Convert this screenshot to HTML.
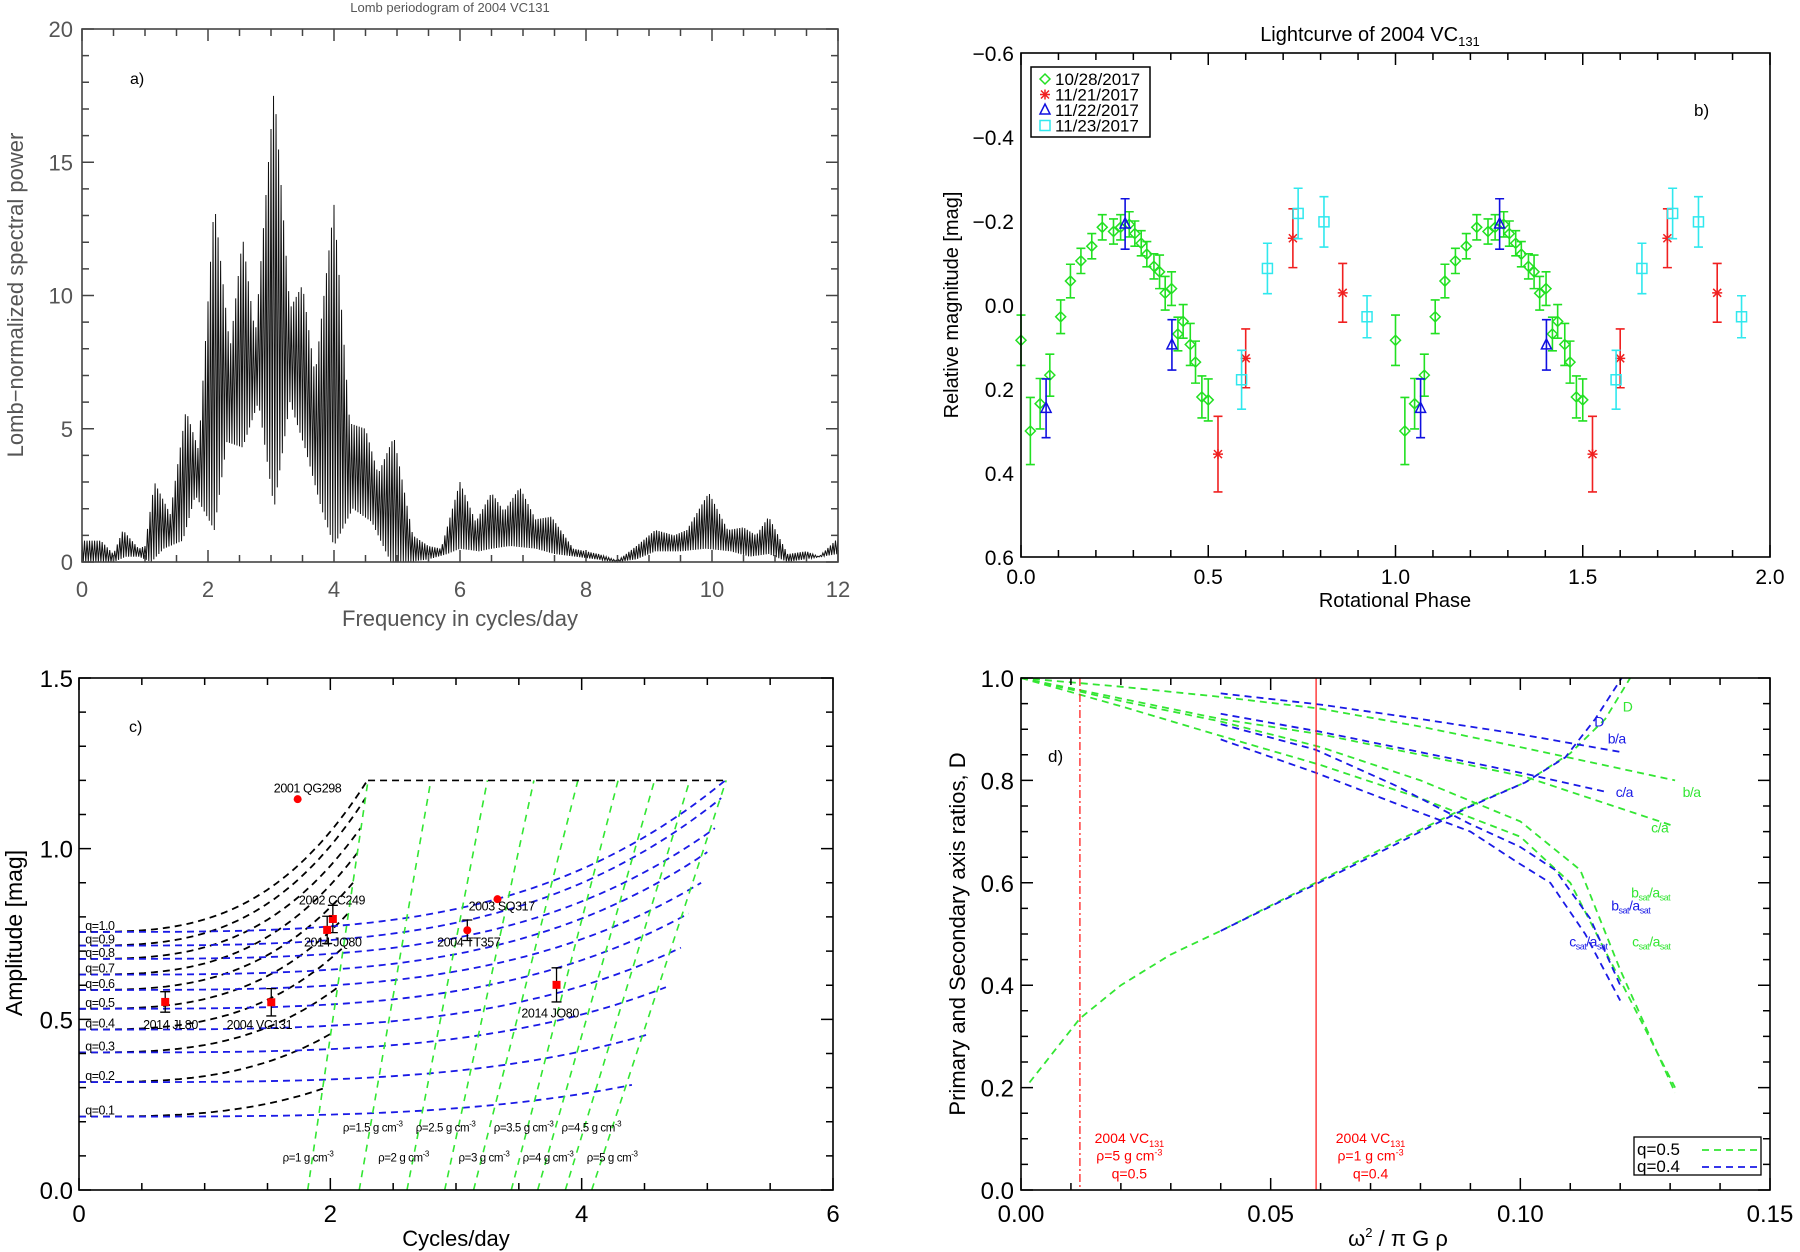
<!DOCTYPE html>
<html><head><meta charset="utf-8">
<style>
html,body{margin:0;padding:0;background:#fff;}
svg{display:block;font-family:"Liberation Sans",sans-serif;}
</style></head>
<body>
<svg id="fig" width="1800" height="1252" viewBox="0 0 1800 1252" xmlns="http://www.w3.org/2000/svg"></svg>
<script>
// ---------- Panel a data (periodogram envelopes) ----------
const aUpFreq = [0,0.3,0.5,0.65,0.9,1.0,1.15,1.4,1.65,1.85,2.1,2.35,2.55,2.75,3.05,3.3,3.5,3.7,4.0,4.25,4.5,4.7,4.95,5.25,5.5,5.7,6.0,6.25,6.5,6.7,6.95,7.2,7.45,7.8,8.2,8.5,8.8,9.1,9.4,9.6,9.95,10.25,10.5,10.7,10.9,11.2,11.5,11.7,12];
const aUpPower = [0.8,0.8,0.3,1.2,0.5,0.6,3.0,1.8,5.7,4.2,13.5,8.0,12.2,8.5,17.8,9.5,10.4,7.0,13.4,5.2,5.0,3.3,4.7,1.0,0.6,0.5,3.0,1.5,2.6,1.9,2.8,1.6,1.7,0.5,0.3,0.05,0.6,1.2,1.0,1.2,2.6,1.2,1.3,1.0,1.7,0.3,0.4,0.2,0.9];
const aLoFreq = [0,0.5,0.7,0.9,1.1,1.3,1.6,1.8,2.1,2.3,2.55,2.8,3.05,3.3,3.55,3.8,4.0,4.3,4.6,4.9,5.2,5.5,5.8,6.0,6.3,6.5,6.8,7.2,7.5,8.5,8.8,9.1,9.5,9.9,10.3,10.6,10.9,11.2,12];
const aLoPower = [0,0,0.2,0.2,0,0.5,0.8,2.5,1.2,4.5,4.3,6.0,2.0,6.0,4.2,2.0,0.6,2.0,1.5,0,0,0.1,0.3,0.5,0.4,0.5,0.6,0.5,0.3,0,0.1,0.4,0.4,0.5,0.4,0.2,0.3,0,0.3];
const aXTicks = [0,2,4,6,8,10,12];
const aYTicks = [0,5,10,15,20];

// ---------- Panel b data (lightcurve) ----------
const gPhase = [0.0,0.025,0.051,0.077,0.106,0.132,0.160,0.189,0.217,0.247,0.266,0.289,0.304,0.321,0.336,0.355,0.370,0.385,0.402,0.419,0.433,0.452,0.466,0.483,0.500];
const gMag   = [0.084,0.30,0.235,0.167,0.028,-0.057,-0.105,-0.140,-0.185,-0.175,-0.185,-0.192,-0.170,-0.147,-0.121,-0.092,-0.079,-0.028,-0.039,0.069,0.039,0.094,0.136,0.219,0.226];
const gErr   = [0.06,0.08,0.06,0.05,0.04,0.04,0.03,0.03,0.03,0.03,0.03,0.03,0.03,0.03,0.03,0.03,0.04,0.04,0.04,0.04,0.04,0.05,0.05,0.05,0.05];
const rPhase = [0.526,0.600,0.726,0.859];
const rMag   = [0.355,0.127,-0.159,-0.029];
const rErr   = [0.09,0.07,0.07,0.07];
const bPhase = [0.067,0.278,0.403];
const bMag   = [0.246,-0.193,0.095];
const bErr   = [0.07,0.06,0.06];
const cPhase = [0.589,0.658,0.740,0.809,0.924];
const cMag   = [0.178,-0.087,-0.218,-0.198,0.028];
const cErr   = [0.07,0.06,0.06,0.06,0.05];
const bXTicks = [0,0.5,1.0,1.5,2.0];
const bYTicks = [-0.6,-0.4,-0.2,0.0,0.2,0.4,0.6];

// ---------- Panel c data ----------
const qVals = [0.1,0.2,0.3,0.4,0.5,0.6,0.7,0.8,0.9,1.0];
const qA0 = [0.215,0.316,0.403,0.47,0.531,0.586,0.631,0.677,0.716,0.756];
const qBlueEndF = [4.40,4.54,4.67,4.79,4.85,4.95,5.0,5.06,5.11,5.16];
const qBlueEndA = [0.308,0.457,0.594,0.71,0.81,0.90,0.99,1.06,1.148,1.205];
const qBlackEndF = [1.94,2.0,2.06,2.10,2.14,2.18,2.22,2.24,2.28,2.30];
const qBlackEndA = [0.297,0.457,0.594,0.71,0.81,0.90,0.99,1.06,1.148,1.203];
const rhoVals = ['1','1.5','2','2.5','3','3.5','4','4.5','5'];
const rhoBotF = [1.82,2.23,2.61,2.91,3.14,3.44,3.65,3.87,4.08];
const rhoTopF = [2.30,2.80,3.25,3.62,3.97,4.29,4.58,4.86,5.15];
const objNames = ['2001 QG298','2002 CC249','2014 JQ80','2003 SQ317','2004 TT357','2014 JO80','2014 JL80','2004 VC131'];
const objF = [1.74,2.02,1.975,3.33,3.09,3.80,0.686,1.53];
const objA = [1.145,0.794,0.762,0.852,0.761,0.601,0.551,0.55];
const objErr = [0,0.04,0.04,0,0.03,0.05,0.03,0.04];
const objSquare = [false,true,true,false,false,true,true,true];
const objLabF = [1.55,1.75,1.79,3.10,2.85,3.52,0.51,1.175];
const objLabA = [1.165,0.836,0.714,0.819,0.714,0.506,0.472,0.472];
const cXTicks = [0,2,4,6];
const cYTicks = [0.0,0.5,1.0,1.5];

// ---------- Panel d data ----------
const dGbaX = [0,0.02,0.04,0.06,0.08,0.1,0.131];
const dGbaY = [1.0,0.983,0.963,0.94,0.905,0.865,0.80];
const dGcaX = [0,0.02,0.04,0.06,0.08,0.101,0.131];
const dGcaY = [1.0,0.96,0.92,0.89,0.85,0.807,0.71];
const dGbsX = [0,0.02,0.04,0.06,0.08,0.1,0.112,0.12,0.131];
const dGbsY = [1.0,0.955,0.915,0.865,0.80,0.72,0.625,0.43,0.19];
const dGcsX = [0,0.02,0.04,0.06,0.08,0.1,0.11,0.12,0.131];
const dGcsY = [1.0,0.945,0.887,0.83,0.765,0.69,0.60,0.41,0.20];
const dBbaX = [0.04,0.06,0.08,0.1,0.1203];
const dBbaY = [0.97,0.948,0.92,0.89,0.855];
const dBcaX = [0.04,0.06,0.08,0.1,0.117];
const dBcaY = [0.93,0.895,0.855,0.815,0.778];
const dBbsX = [0.04,0.059,0.075,0.0897,0.1,0.107,0.114,0.12];
const dBbsY = [0.91,0.86,0.79,0.716,0.67,0.625,0.53,0.40];
const dBcsX = [0.04,0.059,0.075,0.09,0.0994,0.106,0.113,0.12];
const dBcsY = [0.88,0.815,0.755,0.70,0.64,0.60,0.50,0.37];
const dGDX = [0.0017,0.0118,0.02,0.03,0.04,0.059,0.075,0.0897,0.101,0.110,0.117,0.122];
const dGDY = [0.21,0.335,0.40,0.46,0.506,0.60,0.68,0.75,0.796,0.853,0.92,1.0];
const dBDX = [0.04,0.059,0.075,0.0897,0.101,0.109,0.115,0.1203];
const dBDY = [0.506,0.597,0.675,0.748,0.796,0.845,0.92,1.0];
const dVlineX = [0.0118,0.0591];
const dXTicks = [0.00,0.05,0.10,0.15];
const dYTicks = [0.0,0.2,0.4,0.6,0.8,1.0];

// ---------- helpers ----------
const NS = 'http://www.w3.org/2000/svg';
const svg = document.getElementById('fig');
function mk(tag, attrs, parent){
  const el = document.createElementNS(NS, tag);
  for (const k in attrs) el.setAttribute(k, attrs[k]);
  (parent || svg).appendChild(el);
  return el;
}
function nm(el, name){
  
  
  return el;
}
function axis(x0,x1,y0,y1,xmin,xmax,ymin,ymax){
  return {x0,x1,y0,y1,
    sx: v => x0 + (v - xmin) / (xmax - xmin) * (x1 - x0),
    sy: v => y1 - (v - ymin) / (ymax - ymin) * (y1 - y0),
    xmin,xmax,ymin,ymax};
}
function frame(ax, name, xMinor, yMinor, col, maj, mnr){
  const g = mk('g', {});
  nm(g, name + '-frame');
  const r = mk('rect', {x:ax.x0,y:ax.y0,width:ax.x1-ax.x0,height:ax.y1-ax.y0,fill:'none',stroke:col,'stroke-width':1.6}, g);
  nm(r, name + '-plot-border');
  let d = '';
  const nx = Math.round((ax.xmax-ax.xmin)/xMinor);
  for (let i=0;i<=nx;i++){
    const v = ax.xmin + i*xMinor, x = ax.sx(v);
    const L = (i % xMinor.majEvery === 0) ? maj : mnr;
    d += `M${x},${ax.y1}v${-L}M${x},${ax.y0}v${L}`;
  }
  const ny = Math.round((ax.ymax-ax.ymin)/yMinor);
  for (let i=0;i<=ny;i++){
    const v = ax.ymin + i*yMinor, y = ax.sy(v);
    const L = (i % yMinor.majEvery === 0) ? maj : mnr;
    d += `M${ax.x0},${y}h${L}M${ax.x1},${y}h${-L}`;
  }
  const t = mk('path', {d, stroke:col, 'stroke-width':1.5, fill:'none'}, g);
  nm(t, name + '-ticks');
}
function txt(x,y,s,opt){
  const el = mk('text', Object.assign({x,y,'font-size':20,fill:'#000'}, opt||{}));
  el.textContent = s;
  return el;
}
function lerp(xs, ys, x){
  if (x <= xs[0]) return ys[0];
  for (let i=1;i<xs.length;i++){
    if (x <= xs[i]) { const t=(x-xs[i-1])/(xs[i]-xs[i-1]); return ys[i-1]+t*(ys[i]-ys[i-1]); }
  }
  return ys[ys.length-1];
}
function step(v, every){ const o = new Number(v); o.majEvery = every; return o; }

// ================= Panel a =================
(function(){
  const ax = axis(82,838,29,562,0,12,0,20);
  const gray = '#555';
  const g = mk('g', {});
  nm(g, 'panel-a-periodogram');
  let d = '';
  let k = 0;
  for (let f=0; f<=12.0001; f+=0.02, k++){
    const v = (k % 2 === 0) ? lerp(aUpFreq,aUpPower,f) : lerp(aLoFreq,aLoPower,f);
    d += (k===0?'M':'L') + ax.sx(f).toFixed(2) + ',' + ax.sy(v).toFixed(2);
  }
  const p = mk('path', {d, stroke:'#111', 'stroke-width':1, fill:'none'}, g);
  nm(p, 'periodogram-curve');
  frame(ax, 'panel-a', step(0.5,4), step(1,5), '#444', 12, 7);
  aXTicks.forEach(v => { const t = txt(ax.sx(v), 597, String(v), {'text-anchor':'middle','font-size':22,fill:gray}); nm(t,'x-tick-label'); });
  aYTicks.forEach(v => { const t = txt(73, ax.sy(v)+8, String(v), {'text-anchor':'end','font-size':22,fill:gray}); nm(t,'y-tick-label'); });
  nm(txt(460, 626, 'Frequency in cycles/day', {'text-anchor':'middle','font-size':22,fill:gray}), 'x-axis-title');
  nm(txt(0,0,'Lomb\u2212normalized spectral power', {'text-anchor':'middle','font-size':22,fill:gray,transform:'translate(23,295) rotate(-90)'}), 'y-axis-title');
  nm(txt(450, 12, 'Lomb periodogram of 2004 VC131', {'text-anchor':'middle','font-size':13,fill:gray}), 'chart-title');
  nm(txt(130, 84, 'a)', {'font-size':16}), 'panel-label');
})();

// ================= Panel b =================
(function(){
  const ax = axis(1021,1770,53,557,0,2,0.6,-0.6);
  ax.sy = v => 53 + (v + 0.6) / 1.2 * (557 - 53);
  const g = mk('g', {});
  nm(g, 'panel-b-lightcurve');
  function errbar(x, m, e, col, name){
    const X = ax.sx(x), y1 = ax.sy(m-e), y2 = ax.sy(m+e);
    const pth = mk('path', {d:`M${X},${y1}V${y2}M${X-4.5},${y1}h9M${X-4.5},${y2}h9`, stroke:col,'stroke-width':1.6,fill:'none'}, g);
    nm(pth, name + '-error-bar');
  }
  function marker(type, x, m, col, name){
    const X = ax.sx(x), Y = ax.sy(m);
    let el;
    if (type==='diamond') el = mk('path',{d:`M${X},${Y-5}L${X+5},${Y}L${X},${Y+5}L${X-5},${Y}Z`,stroke:col,'stroke-width':1.5,fill:'none'},g);
    else if (type==='square') el = mk('rect',{x:X-5,y:Y-5,width:10,height:10,stroke:col,'stroke-width':1.5,fill:'none'},g);
    else if (type==='triangle') el = mk('path',{d:`M${X},${Y-6}L${X+5},${Y+4}L${X-5},${Y+4}Z`,stroke:col,'stroke-width':1.5,fill:'none'},g);
    else el = mk('path',{d:`M${X-5},${Y}h10M${X},${Y-5}v10M${X-4},${Y-4}l8,8M${X+4},${Y-4}l-8,8`,stroke:col,'stroke-width':1.5,fill:'none'},g);
    nm(el, name + '-point');
  }
  const sets = [
    [gPhase,gMag,gErr,'#22e022','diamond','green-10-28'],
    [rPhase,rMag,rErr,'#f02020','star','red-11-21'],
    [bPhase,bMag,bErr,'#1010e0','triangle','blue-11-22'],
    [cPhase,cMag,cErr,'#30e8ee','square','cyan-11-23']];
  sets.forEach(s => {
    for (let rep=0; rep<2; rep++){
      s[0].forEach((ph,i) => {
        const x = ph + rep;
        if (x > 2) return;
        errbar(x, s[1][i], s[2][i], s[3], s[5]);
        marker(s[4], x, s[1][i], s[3], s[5]);
      });
    }
  });
  frame(ax, 'panel-b', step(0.1,5), step(0.05,4), '#000', 12, 7);
  bXTicks.forEach(v => nm(txt(ax.sx(v), 584, v.toFixed(1), {'text-anchor':'middle','font-size':21}),'x-tick-label'));
  bYTicks.forEach(v => nm(txt(1014, ax.sy(v)+8, (v<0?'\u2212':'')+Math.abs(v).toFixed(1), {'text-anchor':'end','font-size':21}),'y-tick-label'));
  nm(txt(1395, 607, 'Rotational Phase', {'text-anchor':'middle','font-size':20}), 'x-axis-title');
  nm(txt(0,0,'Relative magnitude [mag]', {'text-anchor':'middle','font-size':20,transform:'translate(958,305) rotate(-90)'}), 'y-axis-title');
  const tt = txt(1370, 41, 'Lightcurve of 2004 VC', {'text-anchor':'middle','font-size':20});
  const sub = mk('tspan', {'font-size':13,dy:5}, tt); sub.textContent = '131';
  nm(tt, 'chart-title');
  nm(txt(1694, 116, 'b)', {'font-size':17}), 'panel-label');
  const lg = mk('g', {});
  nm(lg, 'legend');
  nm(mk('rect',{x:1031,y:67,width:119,height:70,fill:'#fff',stroke:'#000','stroke-width':1.5},lg),'legend-box');
  const labs = ['10/28/2017','11/21/2017','11/22/2017','11/23/2017'];
  labs.forEach((l,i) => {
    const Y = 79 + i*15.5, X = 1045, col = sets[i][3];
    let el;
    if (i===0) el = mk('path',{d:`M${X},${Y-5}L${X+5},${Y}L${X},${Y+5}L${X-5},${Y}Z`,stroke:col,'stroke-width':1.5,fill:'none'},lg);
    else if (i===1) el = mk('path',{d:`M${X-5},${Y}h10M${X},${Y-5}v10M${X-4},${Y-4}l8,8M${X+4},${Y-4}l-8,8`,stroke:col,'stroke-width':1.5,fill:'none'},lg);
    else if (i===2) el = mk('path',{d:`M${X},${Y-6}L${X+5},${Y+4}L${X-5},${Y+4}Z`,stroke:col,'stroke-width':1.5,fill:'none'},lg);
    else el = mk('rect',{x:X-5,y:Y-5,width:10,height:10,stroke:col,'stroke-width':1.5,fill:'none'},lg);
    nm(el, 'legend-marker');
    const t = txt(1055, Y+6, l, {'font-size':17}, lg);
    lg.appendChild(t);
    nm(t, 'legend-entry');
  });
})();

// ================= Panel c =================
(function(){
  const ax = axis(79,833,678,1190,0,6,0,1.5);
  const g = mk('g', {});
  nm(g, 'panel-c-amplitude');
  function curve(A0, fE, AE, pw, col, name){
    let d = '';
    for (let i=0;i<=60;i++){
      const f = fE*i/60, A = A0 + (AE-A0)*Math.pow(f/fE, pw);
      d += (i?'L':'M') + ax.sx(f).toFixed(1) + ',' + ax.sy(A).toFixed(1);
    }
    const p = mk('path',{d,stroke:col,'stroke-width':1.8,fill:'none','stroke-dasharray':'7,5'},g);
    nm(p, name);
  }
  qVals.forEach((q,i) => {
    curve(qA0[i], qBlackEndF[i], qBlackEndA[i], 3, '#000', 'black-curve-q' + q);
    curve(qA0[i], qBlueEndF[i], qBlueEndA[i], 3.5, '#1a1ae6', 'blue-curve-q' + q);
    nm(txt(ax.sx(0.05), ax.sy(qA0[i])-2, 'q=' + q.toFixed(1), {'font-size':12.5,'letter-spacing':'-0.5'}), 'q-label');
  });
  rhoVals.forEach((r,i) => {
    const p = mk('path',{d:`M${ax.sx(rhoBotF[i])},${ax.sy(0)}L${ax.sx(rhoTopF[i])},${ax.sy(1.2)}`,stroke:'#33e633','stroke-width':1.6,fill:'none','stroke-dasharray':'7,6'},g);
    nm(p, 'density-line-rho' + r);
  });
  const top = mk('path',{d:`M${ax.sx(rhoTopF[0])},${ax.sy(1.2)}L${ax.sx(rhoTopF[8])},${ax.sy(1.2)}`,stroke:'#000','stroke-width':1.6,'stroke-dasharray':'7,5'},g);
  nm(top,'top-limit-line');
  const rowTopF = [2.10,2.68,3.30,3.84], rowTopR = ['1.5','2.5','3.5','4.5'];
  rowTopR.forEach((r,i)=>{ const t = txt(ax.sx(rowTopF[i]), ax.sy(0.172), '\u03c1=' + r + ' g cm', {'font-size':11.5,'letter-spacing':'-0.4'}); const s = mk('tspan',{'font-size':8,dy:-5},t); s.textContent='-3'; nm(t,'density-label'); });
  const rowBotF = [1.62,2.38,3.02,3.53,4.04], rowBotR = ['1','2','3','4','5'];
  rowBotR.forEach((r,i)=>{ const t = txt(ax.sx(rowBotF[i]), ax.sy(0.083), '\u03c1=' + r + ' g cm', {'font-size':11.5,'letter-spacing':'-0.4'}); const s = mk('tspan',{'font-size':8,dy:-5},t); s.textContent='-3'; nm(t,'density-label'); });
  objNames.forEach((n,i) => {
    const X = ax.sx(objF[i]), Y = ax.sy(objA[i]);
    if (objErr[i] > 0){
      const y1 = ax.sy(objA[i]-objErr[i]), y2 = ax.sy(objA[i]+objErr[i]);
      nm(mk('path',{d:`M${X},${y1}V${y2}M${X-5},${y1}h10M${X-5},${y2}h10`,stroke:'#000','stroke-width':1.3,fill:'none'},g),'object-error-bar');
    }
    let m;
    if (objSquare[i]) m = mk('rect',{x:X-4,y:Y-4,width:8,height:8,fill:'#f00'},g);
    else m = mk('circle',{cx:X,cy:Y,r:4,fill:'#f00'},g);
    nm(m, 'object-point');
    nm(txt(ax.sx(objLabF[i]), ax.sy(objLabA[i]), n, {'font-size':12.5,'letter-spacing':'-0.4'}), 'object-label');
  });
  frame(ax, 'panel-c', step(0.5,4), step(0.1,5), '#000', 12, 7);
  cXTicks.forEach(v => nm(txt(ax.sx(v), 1222, String(v), {'text-anchor':'middle','font-size':24}),'x-tick-label'));
  cYTicks.forEach(v => nm(txt(73, ax.sy(v)+9, v.toFixed(1), {'text-anchor':'end','font-size':24}),'y-tick-label'));
  nm(txt(456, 1246, 'Cycles/day', {'text-anchor':'middle','font-size':22}), 'x-axis-title');
  nm(txt(0,0,'Amplitude [mag]', {'text-anchor':'middle','font-size':23,transform:'translate(22,933) rotate(-90)'}), 'y-axis-title');
  nm(txt(129, 732, 'c)', {'font-size':16}), 'panel-label');
})();

// ================= Panel d =================
(function(){
  const ax = axis(1021,1770,678,1190,0,0.15,0,1);
  const g = mk('g', {});
  nm(g, 'panel-d-axis-ratios');
  const G = '#33e633', B = '#1a1ae6';
  function line(xs, ys, col, name){
    const d = xs.map((x,i)=>(i?'L':'M')+ax.sx(x).toFixed(1)+','+ax.sy(ys[i]).toFixed(1)).join('');
    nm(mk('path',{d,stroke:col,'stroke-width':1.8,fill:'none','stroke-dasharray':'7,5'},g), name);
  }
  line(dGbaX,dGbaY,G,'green-b-over-a');
  line(dGcaX,dGcaY,G,'green-c-over-a');
  line(dGbsX,dGbsY,G,'green-bsat-over-asat');
  line(dGcsX,dGcsY,G,'green-csat-over-asat');
  line(dGDX,dGDY,G,'green-D');
  line(dBbaX,dBbaY,B,'blue-b-over-a');
  line(dBcaX,dBcaY,B,'blue-c-over-a');
  line(dBbsX,dBbsY,B,'blue-bsat-over-asat');
  line(dBcsX,dBcsY,B,'blue-csat-over-asat');
  line(dBDX,dBDY,B,'blue-D');
  nm(mk('path',{d:`M${ax.sx(dVlineX[0])},${ax.y0}V${ax.y1}`,stroke:'#f22','stroke-width':1.3,'stroke-dasharray':'8,3,2,3'},g),'vline-rho5');
  nm(mk('path',{d:`M${ax.sx(dVlineX[1])},${ax.y0}V${ax.y1}`,stroke:'#f22','stroke-width':1.3},g),'vline-rho1');
  const ann = [[0.0217,'5','0.5'],[0.0700,'1','0.4']];
  ann.forEach(a => {
    const X = ax.sx(a[0]);
    const t1 = txt(X, ax.sy(0.092), '2004 VC', {'text-anchor':'middle','font-size':14,fill:'#f00'});
    const s1 = mk('tspan',{'font-size':9,dy:4},t1); s1.textContent='131';
    nm(t1,'annotation-name');
    const t2 = txt(X, ax.sy(0.058), '\u03c1=' + a[1] + ' g cm', {'text-anchor':'middle','font-size':14,fill:'#f00'});
    const s2 = mk('tspan',{'font-size':9,dy:-5},t2); s2.textContent='-3';
    nm(t2,'annotation-density');
    nm(txt(X, ax.sy(0.022), 'q=' + a[2], {'text-anchor':'middle','font-size':14,fill:'#f00'}),'annotation-q');
  });
  function lab(x,y,s,col,sub){
    const t = txt(ax.sx(x), ax.sy(y), '', {'font-size':14,fill:col,'letter-spacing':'-0.5'});
    if (!sub){ t.textContent = s; }
    else {
      const parts = [[s[0],false],['sat',true],['/a',false],['sat',true]];
      parts.forEach(p => { const sp = mk('tspan',{'font-size':p[1]?9:14, dy:p[1]?3:-3},t); sp.textContent = p[0]; });
    }
    nm(t, 'curve-label');
  }
  lab(0.1205,0.935,'D',G); lab(0.1148,0.905,'D',B);
  lab(0.1175,0.872,'b/a',B); lab(0.1191,0.768,'c/a',B);
  lab(0.1325,0.768,'b/a',G); lab(0.1262,0.698,'c/a',G);
  lab(0.1222,0.565,'b',G,true); lab(0.1182,0.54,'b',B,true);
  lab(0.1098,0.47,'c',B,true); lab(0.1224,0.47,'c',G,true);
  frame(ax, 'panel-d', step(0.01,5), step(0.05,4), '#000', 12, 7);
  dXTicks.forEach(v => nm(txt(ax.sx(v), 1222, v.toFixed(2), {'text-anchor':'middle','font-size':24}),'x-tick-label'));
  dYTicks.forEach(v => nm(txt(1014, ax.sy(v)+9, v.toFixed(1), {'text-anchor':'end','font-size':24}),'y-tick-label'));
  const xt = txt(1398, 1246, '\u03c9', {'text-anchor':'middle','font-size':22});
  const sp = mk('tspan',{'font-size':13,dy:-9},xt); sp.textContent='2';
  const sp2 = mk('tspan',{dy:9},xt); sp2.textContent=' / \u03c0 G \u03c1';
  nm(xt,'x-axis-title');
  nm(txt(0,0,'Primary and Secondary axis ratios, D', {'text-anchor':'middle','font-size':22,transform:'translate(965,934) rotate(-90)'}), 'y-axis-title');
  nm(txt(1048, 762, 'd)', {'font-size':17}), 'panel-label');
  const lg = mk('g',{});
  nm(lg,'legend');
  nm(mk('rect',{x:1634,y:1137,width:127,height:38,fill:'#fff',stroke:'#000','stroke-width':1.3},lg),'legend-box');
  nm(txt(1637,1155,'q=0.5',{'font-size':17}),'legend-entry');
  nm(txt(1637,1172,'q=0.4',{'font-size':17}),'legend-entry');
  nm(mk('path',{d:'M1702,1150h56',stroke:G,'stroke-width':1.8,'stroke-dasharray':'7,5'},lg),'legend-line-green');
  nm(mk('path',{d:'M1702,1167h56',stroke:B,'stroke-width':1.8,'stroke-dasharray':'7,5'},lg),'legend-line-blue');
})();
</script>
</body></html>
